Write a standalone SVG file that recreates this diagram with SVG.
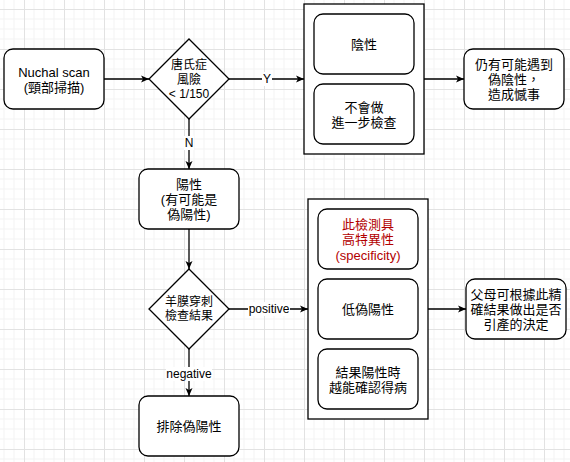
<svg xmlns="http://www.w3.org/2000/svg" width="570" height="462" viewBox="0 0 570 462">
<style>
.node{fill:#fff;stroke:#000;stroke-width:1.3}
.t{font-family:"Liberation Sans","Noto Sans CJK TC",sans-serif;font-size:13px;fill:#000;text-anchor:middle;dominant-baseline:central}
.d{font-size:12px}
.lbl{font-family:"Liberation Sans","Noto Sans CJK TC",sans-serif;font-size:12px;fill:#000;text-anchor:middle;dominant-baseline:central}
.red{fill:#b20000}
.edge{fill:none;stroke:#000;stroke-width:1.3;marker-end:url(#arr)}
</style>
<defs>
<pattern id="grid" patternUnits="userSpaceOnUse" x="24" y="9" width="40" height="40">
<path d="M10,0V40M20,0V40M30,0V40M0,10H40M0,20H40M0,30H40" stroke="#f3f3f3" stroke-width="1" fill="none"/>
<path d="M0.5,0V40M0,0.5H40" stroke="#e2e2e2" stroke-width="1" fill="none"/>
</pattern>
<marker id="arr" markerUnits="userSpaceOnUse" viewBox="0 0 8 8" refX="8" refY="4" markerWidth="8" markerHeight="8" orient="auto">
<path d="M0,0.5L8,4L0,7.5L2,4Z" fill="#000"/>
</marker>
</defs>
<rect width="570" height="462" fill="#fff"/>
<rect width="570" height="462" fill="url(#grid)"/>

<g id="connectors">
<path class="edge" d="M104,79H149"/>
<path class="edge" d="M229,79H304"/>
<path class="edge" d="M189,119V169"/>
<path class="edge" d="M424,79H464"/>
<path class="edge" d="M189,229V269"/>
<path class="edge" d="M229,309H308"/>
<path class="edge" d="M189,349V396"/>
<path class="edge" d="M428,309H466"/>
<rect x="262" y="72" width="10" height="14" fill="#fff"/>
<text class="lbl" x="267" y="79">Y</text>
<rect x="184" y="136" width="10" height="14" fill="#fff"/>
<text class="lbl" x="189" y="143">N</text>
<rect x="248" y="302" width="42" height="14" fill="#fff"/>
<text class="lbl" x="269" y="309">positive</text>
<rect x="166" y="367" width="46" height="14" fill="#fff"/>
<text class="lbl" x="189" y="374">negative</text>
</g>

<g id="nuchal">
<rect class="node" x="4" y="49" width="100" height="60" rx="9"/>
<text class="t" x="54" y="72">Nuchal scan</text>
<text class="t" x="54" y="87">(頸部掃描)</text>
</g>

<g id="risk">
<path class="node" d="M189,39L229,79L189,119L149,79Z"/>
<text class="t d" x="189" y="65">唐氏症</text>
<text class="t d" x="189" y="79.5">風險</text>
<text class="t d" x="189" y="94">&lt; 1/150</text>
</g>

<g id="negativeGroup">
<rect class="node" x="304" y="4" width="120" height="150"/>
<rect class="node" x="314" y="14" width="100" height="60" rx="9"/>
<text class="t" x="364" y="44.5">陰性</text>
<rect class="node" x="314" y="84" width="100" height="60" rx="9"/>
<text class="t" x="364" y="107">不會做</text>
<text class="t" x="364" y="122">進一步檢查</text>
</g>

<g id="regret">
<rect class="node" x="464" y="49" width="100" height="60" rx="9"/>
<text class="t" x="514" y="64">仍有可能遇到</text>
<text class="t" x="514" y="79">偽陰性，</text>
<text class="t" x="514" y="94">造成憾事</text>
</g>

<g id="positive">
<rect class="node" x="139" y="169" width="100" height="60" rx="9"/>
<text class="t" x="189" y="184.5">陽性</text>
<text class="t" x="189" y="199.5">(有可能是</text>
<text class="t" x="189" y="214.5">偽陽性)</text>
</g>

<g id="amnio">
<path class="node" d="M189,269L229,309L189,349L149,309Z"/>
<text class="t d" x="189" y="301.5">羊膜穿刺</text>
<text class="t d" x="189" y="316">檢查結果</text>
</g>

<g id="exclude">
<rect class="node" x="139" y="396" width="100" height="60" rx="9"/>
<text class="t" x="189" y="426">排除偽陽性</text>
</g>

<g id="amnioGroup">
<rect class="node" x="308" y="199" width="120" height="220"/>
<rect class="node" x="318" y="209" width="100" height="60" rx="9"/>
<text class="t red" x="368" y="224">此檢測具</text>
<text class="t red" x="368" y="239.5">高特異性</text>
<text class="t red" x="368" y="255">(specificity)</text>
<rect class="node" x="318" y="279" width="100" height="60" rx="9"/>
<text class="t" x="368" y="309">低偽陽性</text>
<rect class="node" x="318" y="349" width="100" height="60" rx="9"/>
<text class="t" x="368" y="372">結果陽性時</text>
<text class="t" x="368" y="387.5">越能確認得病</text>
</g>

<g id="decision">
<rect class="node" x="466" y="279" width="100" height="60" rx="9"/>
<text class="t" x="516" y="294">父母可根據此精</text>
<text class="t" x="516" y="309">確結果做出是否</text>
<text class="t" x="516" y="324">引產的決定</text>
</g>
</svg>
